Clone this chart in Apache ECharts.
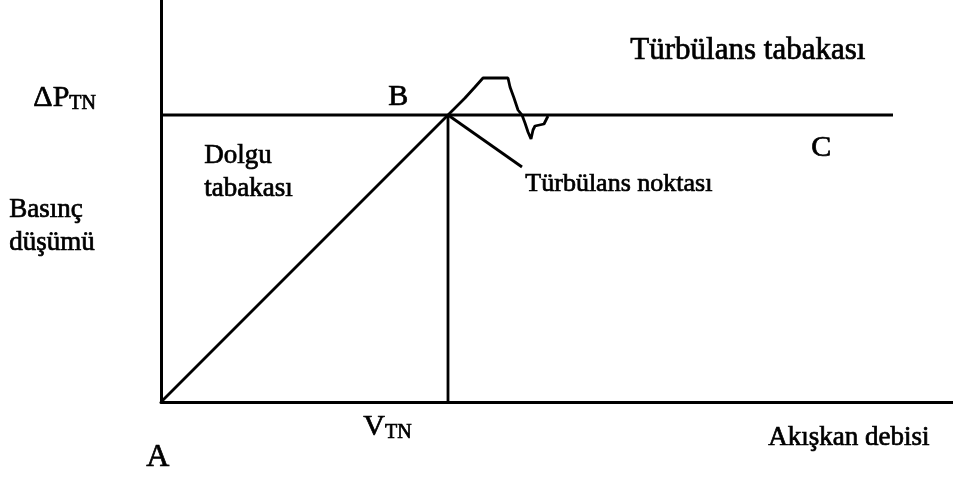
<!DOCTYPE html>
<html>
<head>
<meta charset="utf-8">
<script src="https://cdn.jsdelivr.net/npm/echarts@6/dist/echarts.min.js"></script>
<style>
html,body{margin:0;padding:0;background:#fff;}
#chart{width:953px;height:477px;}
</style>
</head>
<body>
<div id="chart"></div>
<script>
// Axis ranges (abstract units: flow rate vs pressure drop)
const xRange = [0, 792];
const yRange = [0, 402];
// Key points
const pointA = [0, 0];
const pointB = [287, 287];          // turbulence point (V_TN, ΔP_TN)
const plateauEndX = 732;            // end of ΔP_TN horizontal line (C region)
const pointerEnd = [361, 235];      // end of the "Türbülans noktası" pointer
// Turbulence fluctuation curve
const wiggleX = [287, 294, 304, 314, 322, 347, 349, 353, 357, 361, 364, 367, 370, 372, 374, 383, 387];
const wiggleY = [287, 294, 304, 315, 324, 324, 315, 304, 292, 287, 279, 270, 263, 272, 276, 278, 286];

const fillBed = [pointA, pointB];
const vLine = [[pointB[0], 0], pointB];
const hLine = [[0, pointB[1]], [plateauEndX, pointB[1]]];
const pointer = [pointB, pointerEnd];
const wiggle = wiggleX.map((x, i) => [x, wiggleY[i]]);

const chart = echarts.init(document.getElementById('chart'));
const font = '"Liberation Serif", "DejaVu Serif", serif';
function seg(data, w) {
  return { type: 'line', data: data, symbol: 'none', silent: true,
           lineStyle: { color: '#000', width: w || 2.8 }, clip: false, animation: false };
}
const txt = (x, y, text, fs) => ({
  type: 'text', left: x, top: y,
  style: { text: text, font: (fs || 27) + 'px ' + font, fill: '#000', stroke: '#000', lineWidth: 0.7 }
});
const sub = (x, y, main, subs) => ({
  type: 'text', left: x, top: y, style: {
    text: '{a|' + main + '}{b|' + subs + '}', fill: '#000', stroke: '#000', lineWidth: 0.7,
    rich: { a: { font: '30px ' + font, verticalAlign: 'bottom' },
            b: { font: '20px ' + font, verticalAlign: 'bottom' } } }
});

chart.setOption({
  animation: false,
  backgroundColor: '#fff',
  grid: { left: 161, top: 0, right: 0, bottom: 75 },
  xAxis: { type: 'value', min: xRange[0], max: xRange[1],
    axisLine: { show: true, lineStyle: { color: '#000', width: 3 } },
    axisTick: { show: false }, axisLabel: { show: false }, splitLine: { show: false } },
  yAxis: { type: 'value', min: yRange[0], max: yRange[1],
    axisLine: { show: true, lineStyle: { color: '#000', width: 3 } },
    axisTick: { show: false }, axisLabel: { show: false }, splitLine: { show: false } },
  series: [ seg(fillBed), seg(vLine), seg(hLine), seg(pointer), seg(wiggle) ],
  graphic: [
    sub(33, 83, 'ΔP', 'TN'),
    txt(388, 82, 'B', 30),
    txt(630, 35, 'Türbülans tabakası', 31),
    txt(811, 133, 'C', 30),
    txt(525, 171, 'Türbülans noktası', 26),
    txt(204, 142, 'Dolgu', 27),
    txt(204, 175, 'tabakası', 27),
    txt(9, 196, 'Basınç', 27),
    txt(9, 229, 'düşümü', 27),
    txt(146, 441, 'A', 32),
    sub(363, 412, 'V', 'TN'),
    txt(768, 424, 'Akışkan debisi', 27)
  ]
});
</script>
</body>
</html>
